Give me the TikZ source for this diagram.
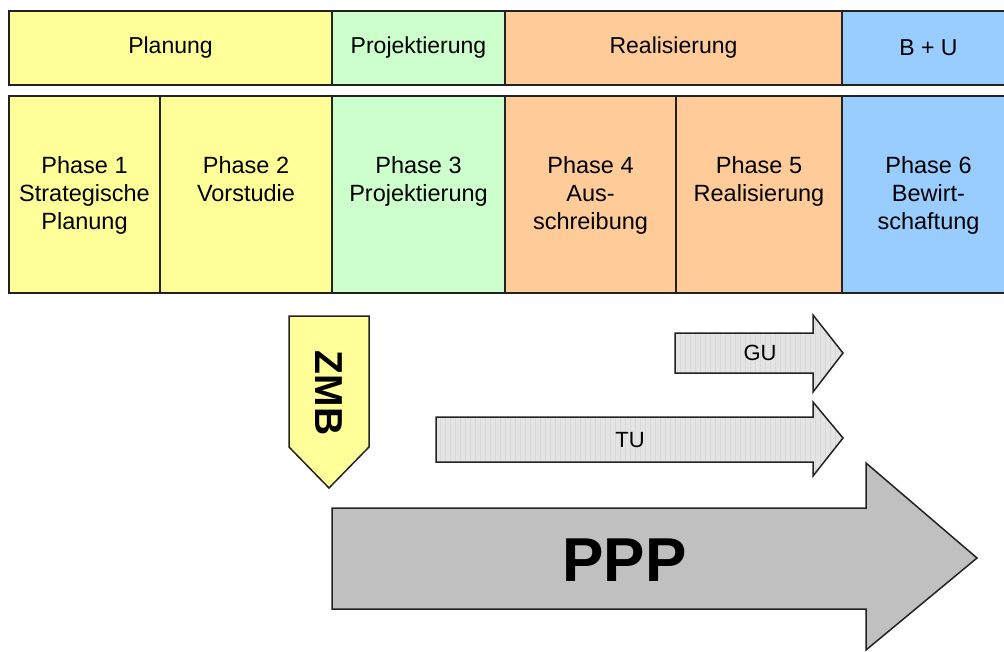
\documentclass[tikz,border=0pt]{standalone}
\usepackage{fontspec}
\setmainfont{Liberation Sans}
\definecolor{cyel}{HTML}{FFFF99}
\definecolor{cgrn}{HTML}{CCFFCC}
\definecolor{corg}{HTML}{FFCC99}
\definecolor{cblu}{HTML}{99CCFF}
\definecolor{cppp}{HTML}{C0C0C0}
\definecolor{cgu}{HTML}{E4E4E4}
\definecolor{cgrid}{HTML}{D8D8D8}
\definecolor{cline}{HTML}{222222}
\begin{document}
\begin{tikzpicture}[x=1pt,y=-1pt,
  hbox/.style={draw=cline,line width=1.5pt,rectangle,inner sep=0pt,minimum height=74pt,
    font=\fontsize{23}{27.6}\selectfont},
  pbox/.style={draw=cline,line width=1.5pt,rectangle,inner sep=0pt,minimum height=197pt},
  ptext/.style={anchor=north,inner sep=0pt,align=center,font=\fontsize{23.5}{28}\selectfont},
  arrowshape/.style={draw=cline,line width=1.5pt,line join=miter},
  albl/.style={inner sep=0pt,font=\fontsize{22}{26}\selectfont}
]
\useasboundingbox (0,0) rectangle (1004,651);
\clip (0,0) rectangle (1004,651);
\fill[white] (0,0) rectangle (1004,651);

% header row
\node[hbox,fill=cyel,minimum width=323pt] (hplan) at (170.5,48) {Planung};
\node[hbox,fill=cgrn,minimum width=173pt] (hproj) at (418.5,48) {Projektierung};
\node[hbox,fill=corg,minimum width=337pt] (hreal) at (673.5,48) {Realisierung};
\node[hbox,fill=cblu,minimum width=173pt] (hbu) at (928.5,48) {B + U};

% phase row
\node[pbox,fill=cyel,minimum width=151pt] (p1) at (84.5,194.5) {};
\node[pbox,fill=cyel,minimum width=172pt] (p2) at (246,194.5) {};
\node[pbox,fill=cgrn,minimum width=173pt] (p3) at (418.5,194.5) {};
\node[pbox,fill=corg,minimum width=171pt] (p4) at (590.5,194.5) {};
\node[pbox,fill=corg,minimum width=166pt] (p5) at (759,194.5) {};
\node[pbox,fill=cblu,minimum width=173pt] (p6) at (928.5,194.5) {};

\node[ptext] (t1) at (84.5,156) {Phase 1\\Strategische\\Planung};
\node[ptext] (t2) at (246,156) {Phase 2\\Vorstudie};
\node[ptext] (t3) at (418.5,156) {Phase 3\\Projektierung};
\node[ptext] (t4) at (590.5,156) {Phase 4\\Aus-\\schreibung};
\node[ptext] (t5) at (759,156) {Phase 5\\Realisierung};
\node[ptext] (t6) at (928.5,156) {Phase 6\\Bewirt-\\schaftung};

% ZMB arrow
\draw[arrowshape,fill=cyel] (289,316) -- (369,316) -- (369,447) -- (329,488) -- (289,447) -- cycle;
\node[rotate=-90,inner sep=0pt,font=\bfseries\fontsize{39}{40}\selectfont] (zmb) at (329,393) {ZMB};

% GU arrow
\begin{scope}
\clip (675,333) -- (813,333) -- (813,315) -- (843,353) -- (813,392) -- (813,373) -- (675,373) -- cycle;
\fill[cgu] (660,300) rectangle (850,400);
\draw[cgrid,line width=0.4pt,step=5] (660,300) grid (850,400);
\end{scope}
\draw[arrowshape] (675,333) -- (813,333) -- (813,315) -- (843,353) -- (813,392) -- (813,373) -- (675,373) -- cycle;
\node[albl] (gu) at (760,353) {GU};

% TU arrow
\begin{scope}
\clip (436,417) -- (813,417) -- (813,402) -- (843,438) -- (813,476) -- (813,462) -- (436,462) -- cycle;
\fill[cgu] (420,390) rectangle (850,480);
\draw[cgrid,line width=0.4pt,step=5] (420,390) grid (850,480);
\end{scope}
\draw[arrowshape] (436,417) -- (813,417) -- (813,402) -- (843,438) -- (813,476) -- (813,462) -- (436,462) -- cycle;
\node[albl] (tu) at (630,440) {TU};

% PPP arrow
\draw[arrowshape,fill=cppp] (332,508) -- (866,508) -- (866,463) -- (977,558) -- (866,650) -- (866,609) -- (332,609) -- cycle;
\node[inner sep=0pt,font=\bfseries\fontsize{62}{62}\selectfont] (ppp) at (624.5,560.5) {PPP};
\end{tikzpicture}
\end{document}
